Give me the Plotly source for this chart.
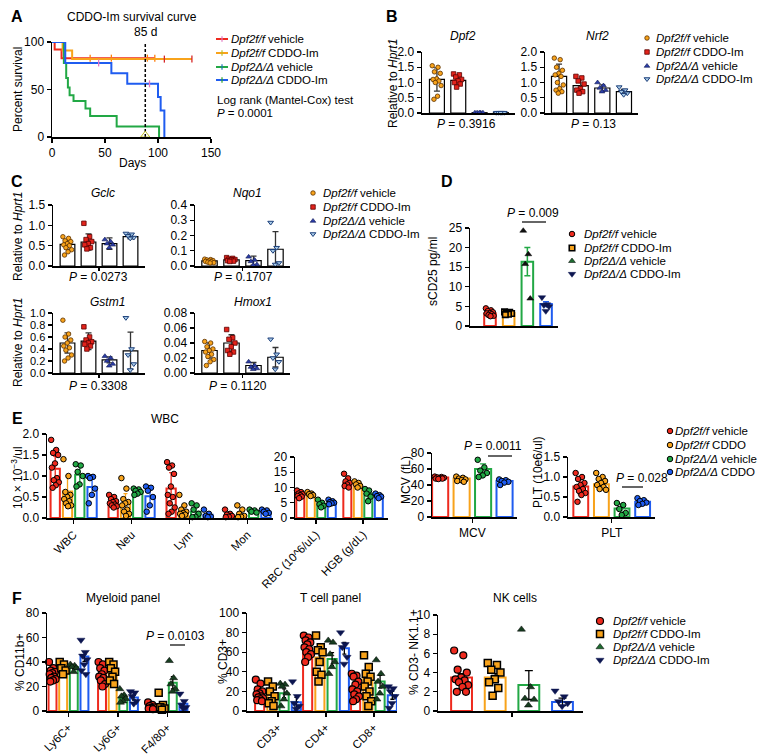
import plotly.graph_objects as go

W, H = 769, 756
FONT = "Liberation Sans, Arial, Helvetica, sans-serif"
RED = "#EE2A1E"; ORANGE = "#F8A31B"; GREEN = "#22A845"; BLUE = "#1F5CF0"
COLS = [RED, ORANGE, GREEN, BLUE]

# ---------------- A: survival ----------------
A_LABELS = ["<i>Dpf2f/f</i> vehicle", "<i>Dpf2f/f</i> CDDO-Im",
            "<i>Dpf2Δ/Δ</i> vehicle", "<i>Dpf2Δ/Δ</i> CDDO-Im"]
A_DAYS = [[0, 2.5, 9, 97],
          [0, 10, 19, 132],
          [0, 11.2, 13.4, 15, 16.6, 20.3, 31.6, 36, 61, 101],
          [0, 12.5, 56, 71, 100, 102.5, 106]]
A_SURV = [[100, 92, 83, 83],
          [100, 91, 82, 82],
          [100, 78, 62, 52, 44, 38, 30, 22, 11, 0],
          [100, 78, 67, 56, 42, 28, 0]]
A_CENSOR = [[36, 56, 90, 97], [106, 132], [], [44, 92]]
A_MARK_DAY = 88

# ---------------- B ----------------
B_DPF2_MEAN = [1.10, 1.07, 0.01, 0.01]
B_DPF2_ERR = [0.38, 0.15, 0.005, 0.005]
B_DPF2_PTS = [[1.55, 1.50, 1.35, 1.30, 1.12, 1.10, 1.05, 1.00, 0.90, 0.55, 0.45],
              [1.28, 1.25, 1.18, 1.10, 1.05, 1.00, 0.95, 0.85],
              [0.01, 0.01, 0.01, 0.01, 0.01],
              [0.01, 0.01, 0.01, 0.01, 0.01]]
B_NRF2_MEAN = [1.20, 0.90, 0.82, 0.70]
B_NRF2_ERR = [0.40, 0.20, 0.10, 0.07]
B_NRF2_PTS = [[1.80, 1.75, 1.50, 1.40, 1.30, 1.25, 1.20, 1.00, 0.92, 0.80, 0.75, 0.70, 0.65],
              [1.20, 1.15, 1.05, 0.95, 0.80, 0.75, 0.70, 0.65],
              [1.00, 0.90, 0.82, 0.75, 0.70],
              [0.85, 0.75, 0.70, 0.65, 0.60]]

# ---------------- C ----------------
C_GCLC_MEAN = [0.53, 0.59, 0.55, 0.72]
C_GCLC_ERR = [0.12, 0.20, 0.14, 0.05]
C_GCLC_PTS = [[0.72, 0.68, 0.62, 0.60, 0.55, 0.52, 0.50, 0.45, 0.40, 0.35, 0.27],
              [1.05, 0.72, 0.65, 0.60, 0.55, 0.52, 0.45, 0.42],
              [0.65, 0.60, 0.55, 0.52, 0.45],
              [0.80, 0.78, 0.74, 0.70, 0.68]]
C_NQO1_MEAN = [0.033, 0.040, 0.035, 0.11]
C_NQO1_ERR = [0.008, 0.008, 0.030, 0.115]
C_NQO1_PTS = [[0.045, 0.042, 0.040, 0.036, 0.033, 0.030, 0.028, 0.025, 0.022, 0.020],
              [0.055, 0.050, 0.045, 0.042, 0.040, 0.035, 0.032, 0.030],
              [0.060, 0.040, 0.030, 0.010, 0.005],
              [0.285, 0.120, 0.100, 0.020, 0.010]]
C_GSTM1_MEAN = [0.50, 0.53, 0.22, 0.37]
C_GSTM1_ERR = [0.17, 0.14, 0.05, 0.31]
C_GSTM1_PTS = [[0.88, 0.65, 0.60, 0.55, 0.50, 0.45, 0.42, 0.38, 0.30, 0.25, 0.20],
               [0.77, 0.60, 0.55, 0.52, 0.50, 0.48, 0.45, 0.40],
               [0.28, 0.25, 0.20, 0.15, 0.12],
               [0.92, 0.40, 0.30, 0.15, 0.05]]
C_HMOX1_MEAN = [0.030, 0.040, 0.010, 0.021]
C_HMOX1_ERR = [0.010, 0.011, 0.004, 0.013]
C_HMOX1_PTS = [[0.042, 0.040, 0.035, 0.032, 0.030, 0.028, 0.025, 0.022, 0.018, 0.015, 0.010],
               [0.058, 0.047, 0.045, 0.040, 0.035, 0.030, 0.028, 0.025],
               [0.015, 0.010, 0.008, 0.006, 0.005],
               [0.045, 0.025, 0.020, 0.015, 0.005]]

# ---------------- D ----------------
D_MEAN = [3.2, 3.3, 16.4, 5.6]
D_ERR = [0.25, 0.12, 3.6, 0.6]
D_PTS = [[4.5, 4.0, 3.8, 3.5, 3.3, 3.2, 3.0, 2.8, 2.6, 2.5],
         [3.6, 3.5, 3.3, 3.2, 3.0, 2.9],
         [24.3, 18.3, 15.8, 7.0],
         [7.3, 5.5, 5.3, 5.0, 3.8]]

# ---------------- E ----------------
E_WBC_CATS = ["WBC", "Neu", "Lym", "Mon"]
E_WBC_MEAN = [[1.17, 0.63, 1.03, 0.74], [0.38, 0.33, 0.62, 0.52],
              [0.70, 0.15, 0.15, 0.08], [0.06, 0.07, 0.16, 0.15]]
E_WBC_ERR = [[0.30, 0.38, 0.22, 0.22], [0.08, 0.25, 0.05, 0.20],
             [0.38, 0.15, 0.12, 0.06], [0.06, 0.09, 0.03, 0.04]]
E_WBC_PTS = [
    [[1.86, 1.62, 1.55, 1.50, 1.30, 1.20, 0.95, 0.90, 0.85, 0.78, 0.72],
     [1.40, 1.00, 0.62, 0.55, 0.50, 0.45, 0.40, 0.35, 0.30, 0.28],
     [1.28, 1.25, 1.10, 1.00, 0.80, 0.75],
     [1.00, 0.98, 0.95, 0.70, 0.55, 0.35]],
    [[0.55, 0.50, 0.45, 0.40, 0.38, 0.35, 0.32, 0.30, 0.28, 0.25],
     [0.95, 0.70, 0.45, 0.38, 0.35, 0.30, 0.20, 0.15, 0.10, 0.05],
     [0.70, 0.68, 0.65, 0.62, 0.58, 0.55],
     [0.75, 0.72, 0.65, 0.50, 0.30, 0.15]],
    [[1.33, 1.25, 1.20, 1.05, 0.75, 0.55, 0.50, 0.35, 0.25, 0.15, 0.10],
     [0.55, 0.30, 0.20, 0.15, 0.12, 0.10, 0.08, 0.05],
     [0.35, 0.30, 0.20, 0.10, 0.03, 0.02],
     [0.20, 0.10, 0.05, 0.03, 0.02]],
    [[0.20, 0.10, 0.08, 0.05, 0.03, 0.02],
     [0.30, 0.20, 0.10, 0.05, 0.03, 0.02],
     [0.20, 0.18, 0.15, 0.13],
     [0.20, 0.18, 0.15, 0.12, 0.10]]]
E_RBC_CATS = ["RBC (10^6/uL)", "HGB (g/dL)"]
E_RBC_MEAN = [[7.7, 7.7, 4.6, 5.1], [11.5, 11.0, 8.0, 7.3]]
E_RBC_ERR = [[0.8, 0.5, 1.0, 0.6], [1.2, 0.7, 1.6, 0.6]]
E_RBC_PTS = [
    [[9.0, 8.5, 8.0, 7.8, 7.5, 7.2, 7.0, 6.5], [8.5, 8.0, 7.8, 7.5, 7.2],
     [6.0, 5.0, 4.5, 4.0, 3.5], [6.0, 5.5, 5.2, 5.0, 4.8, 4.5]],
    [[14.5, 13.0, 12.0, 11.5, 11.0, 10.5, 10.0], [12.0, 11.5, 11.0, 10.5, 10.0],
     [9.5, 9.0, 8.0, 7.0, 5.5], [8.0, 7.5, 7.2, 7.0, 6.5]]]
E_MCV_MEAN = [49.5, 48.0, 60.0, 45.0]
E_MCV_ERR = [1.5, 2.0, 6.5, 2.5]
E_MCV_PTS = [[50.5, 50.0, 49.5, 49.0, 48.5, 48.0, 48.0, 47.5],
             [50.5, 49.0, 48.0, 47.0, 46.0, 45.0, 44.0],
             [71.5, 62.0, 58.0, 55.0, 52.0, 50.0],
             [47.0, 46.0, 45.0, 44.0, 43.0, 40.0]]
E_PLT_MEAN = [0.76, 0.82, 0.21, 0.38]
E_PLT_ERR = [0.20, 0.15, 0.12, 0.06]
E_PLT_PTS = [[1.10, 1.00, 0.95, 0.85, 0.80, 0.75, 0.70, 0.65, 0.60, 0.55, 0.38],
             [1.10, 1.00, 0.95, 0.90, 0.85, 0.80, 0.75, 0.70, 0.68],
             [0.35, 0.30, 0.20, 0.10, 0.05],
             [0.47, 0.42, 0.40, 0.36, 0.33, 0.30]]

# ---------------- F ----------------
F_MYE_CATS = ["Ly6C+", "Ly6G+", "F4/80+"]
F_MYE_MEAN = [[30, 36, 36, 44.5], [30, 32, 10, 11], [3.3, 4.7, 23, 6]]
F_MYE_ERR = [[1.5, 2.0, 1.2, 4.0], [2.0, 2.5, 1.5, 2.0], [0.6, 2.5, 5.0, 2.0]]
F_MYE_PTS = [
    [[40, 35, 33, 32, 31, 30, 28, 27, 26, 25, 24], [40, 38, 35, 33, 30],
     [38, 37, 36, 35, 32], [58, 48, 45, 42, 38, 33, 30]],
    [[40, 38, 35, 33, 30, 28, 27, 25, 22, 20], [40, 38, 35, 32, 28, 25, 22],
     [18, 13, 12, 10, 8, 7], [16, 15, 12, 8, 6]],
    [[7, 5, 4, 3, 2.5, 2, 1.5], [15, 5, 3, 2, 1], [41, 27, 22, 18, 16], [14, 8, 5, 3, 2]]]
F_T_CATS = ["CD3+", "CD4+", "CD8+"]
F_T_MEAN = [[16, 16, 18, 9], [63, 54.5, 53, 64], [25.3, 33, 30, 16]]
F_T_ERR = [[2, 3, 4.5, 5], [2.5, 6, 6.5, 6], [3, 5, 6.5, 4]]
F_T_PTS = [
    [[32, 28, 22, 20, 18, 17, 15, 14, 13, 12, 11, 10], [30, 25, 20, 15, 10, 8, 5],
     [28, 27, 25, 18, 12, 5], [30, 15, 8, 5, 2]],
    [[77, 75, 72, 70, 68, 65, 63, 60, 58, 55, 50], [77, 65, 62, 60, 50, 40, 37, 30],
     [72, 70, 58, 50, 45, 38], [80, 68, 65, 55, 48]],
    [[38, 36, 35, 30, 27, 22, 20, 17, 15, 12, 10], [57, 45, 38, 35, 30, 25, 20, 15, 10, 5],
     [52, 38, 30, 25, 18, 12], [25, 23, 20, 15, 8, 3]]]
F_NK_MEAN = [3.5, 3.5, 2.7, 0.95]
F_NK_ERR = [0.4, 0.4, 1.5, 0.4]
F_NK_PTS = [[6.3, 5.8, 4.3, 4.0, 3.5, 3.3, 3.2, 3.0, 2.7, 2.5, 2.0, 2.0],
            [5.0, 4.8, 4.3, 4.0, 3.3, 3.0, 2.4, 1.6],
            [8.5, 2.5, 1.3, 1.2, 0.6],
            [2.1, 1.5, 1.0, 0.8, 0.5]]

LEG_BC = ["<i>Dpf2f/f</i> vehicle", "<i>Dpf2f/f</i> CDDO-Im", "<i>Dpf2Δ/Δ</i> vehicle", "<i>Dpf2Δ/Δ</i> CDDO-Im"]
LEG_E = ["<i>Dpf2f/f</i> vehicle", "<i>Dpf2f/f</i> CDDO", "<i>Dpf2Δ/Δ</i> vehicle", "<i>Dpf2Δ/Δ</i> CDDO"]

# ======================================================
fig = go.Figure()
AX = {}


def ref(n):
    return ("x", "y") if n == 1 else (f"x{n}", f"y{n}")


def add_axes(n, l, r, t, b, xr, yr, xkw=None, ykw=None):
    base = dict(showline=True, linecolor="black", linewidth=1.5, showgrid=False, zeroline=False,
                tickfont=dict(family=FONT, size=12, color="black"), ticklen=4, tickwidth=1.3,
                tickcolor="black", fixedrange=True, automargin=False)
    xr_, yr_ = ref(n)
    xa = dict(base, domain=[l / W, r / W], range=xr, anchor=yr_, ticks="", showticklabels=False)
    ya = dict(base, domain=[1 - b / H, 1 - t / H], range=yr, anchor=xr_, ticks="outside")
    if xkw:
        xa.update(xkw)
    if ykw:
        ya.update(ykw)
    s = "" if n == 1 else str(n)
    AX["xaxis" + s] = xa
    AX["yaxis" + s] = ya


def yt(vals, fmt):
    return dict(tickvals=vals, ticktext=[fmt.format(v) for v in vals])


def jit(n, hw):
    if n == 1:
        return [0]
    return [hw * (((i * 0.6180339887) % 1.0) * 2 - 1) for i in range(n)]


def bars(n, xs, means, errs, pts, bw, fill, line, lw, ecol, mk, jw, ethick=1.3, ewidth=3):
    xa, ya = ref(n)
    for i in range(len(xs)):
        fig.add_trace(go.Bar(x=[xs[i]], y=[means[i]], width=bw, xaxis=xa, yaxis=ya, showlegend=False,
                             marker=dict(color=fill[i], line=dict(color=line[i], width=lw)),
                             error_y=dict(type="data", array=[errs[i]], color=ecol[i],
                                          thickness=ethick, width=ewidth)))
    for i in range(len(xs)):
        offs = jit(len(pts[i]), jw)
        fig.add_trace(go.Scatter(x=[xs[i] + o for o in offs], y=pts[i], mode="markers",
                                 marker=mk[i], xaxis=xa, yaxis=ya, showlegend=False, cliponaxis=False))


def txt(x, y, s, size=12, anchor="center", angle=0, yanchor="middle"):
    fig.add_annotation(x=x / W, y=1 - y / H, xref="paper", yref="paper", text=s, showarrow=False,
                       font=dict(size=size, family=FONT, color="black"), xanchor=anchor,
                       yanchor=yanchor, textangle=angle)


def hline(x0, x1, y):
    fig.add_shape(type="line", xref="paper", yref="paper", x0=x0 / W, x1=x1 / W,
                  y0=1 - y / H, y1=1 - y / H, line=dict(color="black", width=1.2))


def step_val(days, surv, d):
    v = surv[0]
    for dd, ss in zip(days, surv):
        if dd <= d:
            v = ss
    return v


# ---------------- A ----------------
add_axes(1, 52, 211, 42, 137, [0, 150], [0, 100],
         xkw=dict(ticks="outside", showticklabels=True, tickvals=[0, 50, 100, 150]),
         ykw=dict(tickvals=[0, 50, 100]))
for i in range(4):
    fig.add_trace(go.Scatter(x=A_DAYS[i], y=A_SURV[i], mode="lines", line=dict(color=COLS[i], width=2, shape="hv"),
                             xaxis="x", yaxis="y", showlegend=False))
    if A_CENSOR[i]:
        fig.add_trace(go.Scatter(x=A_CENSOR[i], y=[step_val(A_DAYS[i], A_SURV[i], d) for d in A_CENSOR[i]],
                                 mode="markers", marker=dict(symbol="line-ns-open", size=5,
                                                             line=dict(color=COLS[i], width=1.3)),
                                 xaxis="x", yaxis="y", showlegend=False, cliponaxis=False))
fig.add_trace(go.Scatter(x=[A_MARK_DAY, A_MARK_DAY], y=[0, 100], mode="lines",
                         line=dict(color="black", width=1.5, dash="3px,2px"), xaxis="x", yaxis="y", showlegend=False))
fig.add_trace(go.Scatter(x=[A_MARK_DAY, A_MARK_DAY], y=[101, 2], mode="markers",
                         marker=dict(symbol=["triangle-down-open", "triangle-up-open"], size=8,
                                     line=dict(color="black", width=1)),
                         xaxis="x", yaxis="y", showlegend=False, cliponaxis=False))

# ---------------- B ----------------
MK_BC = [dict(symbol="circle", size=4.5, color=ORANGE, line=dict(color="#5a3000", width=0.8)),
         dict(symbol="square", size=4.5, color="#E3231B", line=dict(color="#5a0000", width=0.8)),
         dict(symbol="triangle-up", size=5, color="#2B3DA6", line=dict(color="#101a50", width=0.6)),
         dict(symbol="triangle-down", size=5, color="#A8CBE8", line=dict(color="#1C3F7A", width=1))]
WHITE4 = ["white"] * 4
BLACK4 = ["black"] * 4
GRAY4 = ["#333333"] * 4
Y2 = yt([0, 0.5, 1.0, 1.5, 2.0], "{:.1f}")
add_axes(2, 422, 515, 52, 113, [-0.70, 3.66], [0, 2.0], ykw=Y2)
bars(2, [0, 1, 2, 3], B_DPF2_MEAN, B_DPF2_ERR, B_DPF2_PTS, 0.7, WHITE4, BLACK4, 1.2, GRAY4, MK_BC, 0.22)
add_axes(3, 545, 638, 52, 113, [-0.65, 3.65], [0, 2.0], ykw=Y2)
bars(3, [0, 1, 2, 3], B_NRF2_MEAN, B_NRF2_ERR, B_NRF2_PTS, 0.7, WHITE4, BLACK4, 1.2, GRAY4, MK_BC, 0.22)

# ---------------- C ----------------
CX = dict(ticks="outside", tickvals=[1.5], ticklen=3, showticklabels=False)
add_axes(4, 53, 145, 205, 266, [-0.69, 3.69], [0, 1.5], xkw=CX, ykw=yt([0, 0.5, 1.0, 1.5], "{:.1f}"))
bars(4, [0, 1, 2, 3], C_GCLC_MEAN, C_GCLC_ERR, C_GCLC_PTS, 0.7, WHITE4, BLACK4, 1.2, GRAY4, MK_BC, 0.22)
add_axes(5, 195, 290, 205, 266, [-0.66, 3.66], [0, 0.4], xkw=CX, ykw=yt([0, 0.1, 0.2, 0.3, 0.4], "{:.1f}"))
bars(5, [0, 1, 2, 3], C_NQO1_MEAN, C_NQO1_ERR, C_NQO1_PTS, 0.7, WHITE4, BLACK4, 1.2, GRAY4, MK_BC, 0.22)
add_axes(6, 53, 145, 313, 373, [-0.69, 3.69], [0, 1.0], xkw=CX,
         ykw=dict(yt([0, 0.2, 0.4, 0.6, 0.8, 1.0], "{:.1f}"), tickfont=dict(family=FONT, size=11, color="black")))
bars(6, [0, 1, 2, 3], C_GSTM1_MEAN, C_GSTM1_ERR, C_GSTM1_PTS, 0.7, WHITE4, BLACK4, 1.2, GRAY4, MK_BC, 0.22)
add_axes(7, 195, 290, 313, 373, [-0.66, 3.66], [0, 0.08], xkw=CX,
         ykw=yt([0, 0.02, 0.04, 0.06, 0.08], "{:.2f}"))
bars(7, [0, 1, 2, 3], C_HMOX1_MEAN, C_HMOX1_ERR, C_HMOX1_PTS, 0.7, WHITE4, BLACK4, 1.2, GRAY4, MK_BC, 0.22)

# ---------------- D ----------------
TRI_DARK = "#173d20"
NAVY = "#0d1650"
MK_D = [dict(symbol="circle", size=5.5, color=RED, line=dict(color="black", width=1)),
        dict(symbol="square", size=5.5, color=ORANGE, line=dict(color="black", width=1.6)),
        dict(symbol="triangle-up", size=6, color="#111111", line=dict(color="black", width=0.5)),
        dict(symbol="triangle-down", size=6.5, color=NAVY, line=dict(color=NAVY, width=0.5))]
add_axes(8, 470, 558, 228, 326, [-1.07, 3.64], [0, 25], ykw=yt([0, 5, 10, 15, 20, 25], "{:d}"))
bars(8, [0, 1, 2, 3], D_MEAN, D_ERR, D_PTS, 0.62, WHITE4, COLS, 2, COLS, MK_D, 0.22, ethick=1.5, ewidth=3)

# ---------------- E ----------------
MK_E = [dict(symbol="circle", size=5.5, color=c, line=dict(color="black", width=1)) for c in COLS]


def grouped(n, groups_mean, groups_err, groups_pts, spacing, bw, mk, ecol, jw, lw=2):
    for g in range(len(groups_mean)):
        xs = [g + (i - 1.5) * spacing for i in range(4)]
        bars(n, xs, groups_mean[g], groups_err[g], groups_pts[g], bw, WHITE4, COLS, lw, ecol, mk, jw,
             ethick=1.3, ewidth=2)


ROT = dict(family=FONT, size=11.5, color="black")
add_axes(9, 47, 273, 434, 518, [-0.46, 3.44], [0, 2.0],
         xkw=dict(ticks="outside", showticklabels=True, tickvals=[0, 1, 2, 3], ticktext=E_WBC_CATS,
                  tickangle=-45, tickfont=ROT),
         ykw=yt([0, 0.5, 1.0, 1.5, 2.0], "{:.1f}"))
grouped(9, E_WBC_MEAN, E_WBC_ERR, E_WBC_PTS, 0.212, 0.16, MK_E, COLS, 0.07)
add_axes(10, 295, 388, 457, 518, [-0.447, 1.53], [0, 20],
         xkw=dict(ticks="outside", showticklabels=True, tickvals=[0, 1], ticktext=E_RBC_CATS,
                  tickangle=-45, tickfont=ROT),
         ykw=yt([0, 5, 10, 15, 20], "{:d}"))
grouped(10, E_RBC_MEAN, E_RBC_ERR, E_RBC_PTS, 0.223, 0.17, MK_E, COLS, 0.07)
add_axes(11, 432, 517, 453, 517, [-0.38, 3.58], [0, 80],
         xkw=dict(ticks="outside", showticklabels=True, tickvals=[1.5], ticktext=["MCV"]),
         ykw=yt([0, 20, 40, 60, 80], "{:d}"))
bars(11, [0, 1, 2, 3], E_MCV_MEAN, E_MCV_ERR, E_MCV_PTS, 0.75, WHITE4, COLS, 2, COLS, MK_E, 0.25, ewidth=3)
add_axes(12, 568, 655, 457, 517, [-0.62, 3.6], [0, 1.5],
         xkw=dict(ticks="outside", showticklabels=True, tickvals=[1.5], ticktext=["PLT"]),
         ykw=yt([0, 0.5, 1.0, 1.5], "{:.1f}"))
bars(12, [0, 1, 2, 3], E_PLT_MEAN, E_PLT_ERR, E_PLT_PTS, 0.72, WHITE4, COLS, 2, COLS, MK_E, 0.25, ewidth=3)

# ---------------- F ----------------
MK_F = [dict(symbol="circle", size=7, color=RED, line=dict(color="black", width=1.2)),
        dict(symbol="square", size=7, color=ORANGE, line=dict(color="black", width=1.5)),
        dict(symbol="triangle-up", size=7, color=TRI_DARK, line=dict(color="black", width=0.5)),
        dict(symbol="triangle-down", size=7, color=NAVY, line=dict(color=NAVY, width=0.5))]
add_axes(13, 47, 190, 613, 711, [-0.434, 2.455], [0, 80],
         xkw=dict(ticks="outside", showticklabels=True, tickvals=[0, 1, 2], ticktext=F_MYE_CATS,
                  tickangle=-45, tickfont=ROT),
         ykw=yt([0, 20, 40, 60, 80], "{:d}"))
grouped(13, F_MYE_MEAN, F_MYE_ERR, F_MYE_PTS, 0.215, 0.16, MK_F, BLACK4, 0.07)
add_axes(14, 247, 397, 613, 711, [-0.646, 2.48], [0, 100],
         xkw=dict(ticks="outside", showticklabels=True, tickvals=[0, 1, 2], ticktext=F_T_CATS,
                  tickangle=-45, tickfont=ROT),
         ykw=yt([0, 20, 40, 60, 80, 100], "{:d}"))
grouped(14, F_T_MEAN, F_T_ERR, F_T_PTS, 0.255, 0.19, MK_F, BLACK4, 0.08)
add_axes(15, 438, 583, 615, 711, [-0.70, 3.61], [0, 10],
         xkw=dict(ticks="outside", tickvals=[1.5], ticklen=4, showticklabels=False),
         ykw=yt([0, 2, 4, 6, 8, 10], "{:d}"))
bars(15, [0, 1, 2, 3], F_NK_MEAN, F_NK_ERR, F_NK_PTS, 0.62, WHITE4, COLS, 2, BLACK4, MK_F, 0.22, ewidth=4)

# ---------------- overlay axis for legends ----------------
AX["xaxis16"] = dict(domain=[0, 1], range=[0, W], visible=False, fixedrange=True, anchor="y16", automargin=False)
AX["yaxis16"] = dict(domain=[0, 1], range=[H, 0], visible=False, fixedrange=True, anchor="x16", automargin=False)


def legend(mx, tx, rows, labels, markers, size=11.5):
    for r, lab, m in zip(rows, labels, markers):
        fig.add_trace(go.Scatter(x=[mx], y=[r], mode="markers", marker=m, xaxis="x16", yaxis="y16",
                                 showlegend=False, cliponaxis=False))
        txt(tx, r, lab, size=size, anchor="left")


# A legend (lines)
A_ROWS = [39, 53, 67, 80]
for r, c, lab in zip(A_ROWS, COLS, A_LABELS):
    fig.add_trace(go.Scatter(x=[216, 228], y=[r, r], mode="lines", line=dict(color=c, width=2),
                             xaxis="x16", yaxis="y16", showlegend=False))
    fig.add_trace(go.Scatter(x=[222], y=[r], mode="markers", marker=dict(symbol="line-ns-open", size=4,
                                                                         line=dict(color=c, width=1.2)),
                             xaxis="x16", yaxis="y16", showlegend=False))
    txt(229, r, lab, size=11.5, anchor="left")
txt(215, 100, "Log rank (Mantel-Cox) test", size=11.5, anchor="left")
txt(215, 113, "<i>P</i> = 0.0001", size=11.5, anchor="left")

legend(647, 654, [38, 52, 66, 79], LEG_BC, MK_BC)
legend(313, 321, [193, 207, 221, 234], LEG_BC, MK_BC)
MK_D_LEG = [dict(MK_D[0]), dict(MK_D[1]), dict(MK_D[2], color="#1E6B30"), dict(MK_D[3])]
legend(572, 582, [234, 248, 261, 274], LEG_BC, MK_D_LEG)
legend(670, 673, [431, 445, 459, 472], LEG_E, MK_E)
MK_F_LEG = [dict(MK_F[0]), dict(MK_F[1]), dict(MK_F[2], color="#1E6B30"), dict(MK_F[3])]
legend(600, 611, [621, 634, 647, 660], LEG_BC, MK_F_LEG)

# ---------------- text ----------------
for lab, x, y in [("A", 17, 17), ("B", 392, 17), ("C", 17, 181), ("D", 447, 181), ("E", 17, 419), ("F", 17, 598)]:
    txt(x, y, f"<b>{lab}</b>", size=16)
txt(132, 17, "CDDO-Im survival curve", size=12)
txt(145, 32, "85 d", size=12)
txt(132, 163, "Days", size=12)
txt(18, 90, "Percent survival", size=12, angle=-90)

txt(463, 36, "<i>Dpf2</i>", size=12)
txt(597, 36, "<i>Nrf2</i>", size=12)
txt(466, 124, "<i>P</i> = 0.3916", size=12)
txt(593, 124, "<i>P</i> = 0.13", size=12)
txt(393, 84, "Relative to <i>Hprt1</i>", size=12, angle=-90)

txt(103, 193, "<i>Gclc</i>", size=12)
txt(247, 193, "<i>Nqo1</i>", size=12)
txt(107, 302, "<i>Gstm1</i>", size=12)
txt(253, 302, "<i>Hmox1</i>", size=12)
txt(98, 277, "<i>P</i> = 0.0273", size=12)
txt(243, 277, "<i>P</i> = 0.1707", size=12)
txt(98, 386, "<i>P</i> = 0.3308", size=12)
txt(238, 386, "<i>P</i> = 0.1120", size=12)
txt(18, 237, "Relative to <i>Hprt1</i>", size=12, angle=-90)
txt(18, 343, "Relative to <i>Hprt1</i>", size=12, angle=-90)

txt(533, 213, "<i>P</i> = 0.009", size=12)
hline(522, 546, 222)
txt(433, 272, "sCD25 pg/ml", size=12, angle=-90)

txt(165, 419, "WBC", size=12)
txt(17, 478, "10 × 10<sup>−3</sup>/ul", size=12, angle=-90)
txt(406, 480, "MCV (fL)", size=12, angle=-90)
txt(538, 472, "PLT (10e6/ul)", size=12, angle=-90)
txt(493, 446, "<i>P</i> = 0.0011", size=12)
hline(488, 512, 456)
txt(642, 478, "<i>P</i> = 0.028", size=12)
hline(622, 643, 487)

txt(123, 598, "Myeloid panel", size=12)
txt(330, 598, "T cell panel", size=12)
txt(515, 598, "NK cells", size=12)
txt(20, 663, "% CD11b+", size=12, angle=-90)
txt(223, 662, "% CD3+", size=12, angle=-90)
txt(414, 652, "% CD3- NK1.1+", size=12, angle=-90)
txt(175, 636, "<i>P</i> = 0.0103", size=12)
hline(170, 185, 645)

fig.update_layout(template="none", width=W, height=H, autosize=False,
                  margin=dict(l=0, r=0, t=0, b=0, pad=0, autoexpand=False), paper_bgcolor="white",
                  plot_bgcolor="rgba(0,0,0,0)", barmode="overlay", showlegend=False,
                  font=dict(family=FONT, size=12, color="black"), **AX)
fig.write_html("out.html", config={"displayModeBar": False, "staticPlot": True},
               post_script="document.body.style.margin='0';document.body.style.overflow='hidden';")
